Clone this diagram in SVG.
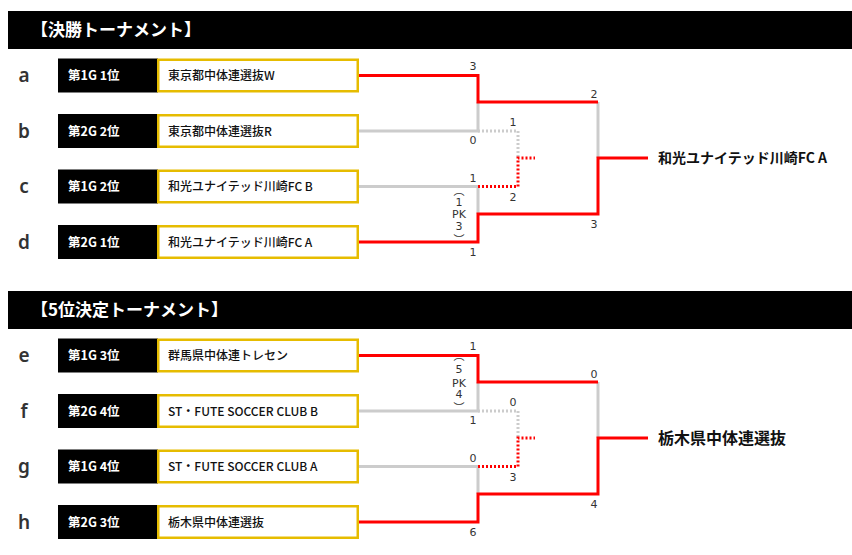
<svg xmlns="http://www.w3.org/2000/svg" width="852" height="555" viewBox="0 0 852 555">
<style>
.hdr{fill:#000}
.hdrt{fill:#fff;font-family:"Noto Sans CJK JP","Noto Sans",sans-serif;font-weight:bold;font-size:17px}
.let{fill:#333;font-family:"Noto Sans","DejaVu Sans",sans-serif;font-weight:600;font-size:19px;text-anchor:middle}
.lab{fill:#000}
.labt{fill:#fff;font-family:"Noto Sans CJK JP","Noto Sans",sans-serif;font-weight:bold;font-size:12.5px}
.team{fill:#fff;stroke:#e6bc00;stroke-width:2.5}
.teamt{fill:#111;font-family:"Noto Sans CJK JP","Noto Sans",sans-serif;font-weight:500;font-size:12px}
.win{fill:#111;font-family:"Noto Sans CJK JP","Noto Sans",sans-serif;font-weight:bold}
.sc{fill:#333;font-family:"DejaVu Sans","Verdana",sans-serif;font-size:11px;text-anchor:middle}
.pk{fill:#333;font-family:"Noto Sans CJK JP",sans-serif;font-size:11px;text-anchor:middle}
.g{fill:none;stroke:#cccccc;stroke-width:3}
.r{fill:none;stroke:#ff0000;stroke-width:3}
.gd{fill:none;stroke:#cccccc;stroke-width:3;stroke-dasharray:2 2}
.rd{fill:none;stroke:#ff0000;stroke-width:3;stroke-dasharray:2 2}
</style>
<rect width="852" height="555" fill="#fff"/>

<g id="header1">
<rect class="hdr" x="8" y="11" width="844" height="38"/>
<text class="hdrt" x="31" y="36">【決勝トーナメント】</text>
</g>
<g id="header2">
<rect class="hdr" x="8" y="291" width="844" height="38"/>
<text class="hdrt" x="31" y="316">【5位決定トーナメント】</text>
</g>

<g id="connectors">
<path class="g" d="M359 131 H478 V102"/>
<path class="g" d="M359 186.5 H478 V214"/>
<path class="g" d="M598 102 V158"/>
<path class="gd" d="M478 131 H518 V158"/>
<path class="rd" d="M478 186.5 H518 V158 H535"/>
<path class="r" d="M359 75.5 H478 V102 H598"/>
<path class="r" d="M359 242 H478 V214 H598 V158 H648"/>

<path class="g" d="M359 411 H478 V382"/>
<path class="g" d="M359 466.5 H478 V494"/>
<path class="g" d="M598 382 V438"/>
<path class="gd" d="M478 411 H518 V438"/>
<path class="rd" d="M478 466.5 H518 V438 H535"/>
<path class="r" d="M359 355.5 H478 V382 H598"/>
<path class="r" d="M359 522 H478 V494 H598 V438 H648"/>
</g>

<g id="node-a">
<text class="let" x="24" y="82">a</text>
<rect class="lab" x="58" y="58.5" width="100" height="34"/>
<text class="labt" x="68" y="80">第1G 1位</text>
<rect class="team" x="158.25" y="59.75" width="199.5" height="31.5"/>
<text class="teamt" x="168" y="80">東京都中体連選抜W</text>
</g>
<g id="node-b">
<text class="let" x="24" y="137.5">b</text>
<rect class="lab" x="58" y="114" width="100" height="34"/>
<text class="labt" x="68" y="135.5">第2G 2位</text>
<rect class="team" x="158.25" y="115.25" width="199.5" height="31.5"/>
<text class="teamt" x="168" y="135.5">東京都中体連選抜R</text>
</g>
<g id="node-c">
<text class="let" x="24" y="193">c</text>
<rect class="lab" x="58" y="169.5" width="100" height="34"/>
<text class="labt" x="68" y="191">第1G 2位</text>
<rect class="team" x="158.25" y="170.75" width="199.5" height="31.5"/>
<text class="teamt" x="168" y="191">和光ユナイテッド川崎FC B</text>
</g>
<g id="node-d">
<text class="let" x="24" y="248.5">d</text>
<rect class="lab" x="58" y="225" width="100" height="34"/>
<text class="labt" x="68" y="246.5">第2G 1位</text>
<rect class="team" x="158.25" y="226.25" width="199.5" height="31.5"/>
<text class="teamt" x="168" y="246.5">和光ユナイテッド川崎FC A</text>
</g>

<g id="node-e">
<text class="let" x="24" y="362">e</text>
<rect class="lab" x="58" y="338.5" width="100" height="34"/>
<text class="labt" x="68" y="360">第1G 3位</text>
<rect class="team" x="158.25" y="339.75" width="199.5" height="31.5"/>
<text class="teamt" x="168" y="360">群馬県中体連トレセン</text>
</g>
<g id="node-f">
<text class="let" x="24" y="417.5">f</text>
<rect class="lab" x="58" y="394" width="100" height="34"/>
<text class="labt" x="68" y="415.5">第2G 4位</text>
<rect class="team" x="158.25" y="395.25" width="199.5" height="31.5"/>
<text class="teamt" x="168" y="415.5">ST・FUTE SOCCER CLUB B</text>
</g>
<g id="node-g">
<text class="let" x="24" y="473">g</text>
<rect class="lab" x="58" y="449.5" width="100" height="34"/>
<text class="labt" x="68" y="471">第1G 4位</text>
<rect class="team" x="158.25" y="450.75" width="199.5" height="31.5"/>
<text class="teamt" x="168" y="471">ST・FUTE SOCCER CLUB A</text>
</g>
<g id="node-h">
<text class="let" x="24" y="528.5">h</text>
<rect class="lab" x="58" y="505" width="100" height="34"/>
<text class="labt" x="68" y="526.5">第2G 3位</text>
<rect class="team" x="158.25" y="506.25" width="199.5" height="31.5"/>
<text class="teamt" x="168" y="526.5">栃木県中体連選抜</text>
</g>

<g id="winner1">
<text class="win" x="658" y="163" font-size="14">和光ユナイテッド川崎FC A</text>
</g>
<g id="winner2">
<text class="win" x="658" y="444" font-size="16">栃木県中体連選抜</text>
</g>

<g id="scores1">
<text class="sc" x="473" y="70">3</text>
<text class="sc" x="473" y="144">0</text>
<text class="sc" x="513" y="126">1</text>
<text class="sc" x="473" y="182">1</text>
<text class="sc" x="513" y="201">2</text>
<text class="sc" x="473" y="256">1</text>
<text class="sc" x="594" y="98">2</text>
<text class="sc" x="594" y="228">3</text>
<text class="pk" x="459" y="195">︵</text>
<text class="sc" x="459" y="206">1</text>
<text class="sc" x="459" y="218">PK</text>
<text class="sc" x="459" y="230">3</text>
<text class="pk" x="459" y="244">︶</text>
</g>
<g id="scores2">
<text class="sc" x="473" y="350">1</text>
<text class="sc" x="473" y="424">1</text>
<text class="sc" x="513" y="406">0</text>
<text class="sc" x="473" y="462">0</text>
<text class="sc" x="513" y="481">3</text>
<text class="sc" x="473" y="536">6</text>
<text class="sc" x="594" y="378">0</text>
<text class="sc" x="594" y="508">4</text>
<text class="pk" x="459" y="360">︵</text>
<text class="sc" x="459" y="373">5</text>
<text class="sc" x="459" y="387">PK</text>
<text class="sc" x="459" y="398">4</text>
<text class="pk" x="459" y="412">︶</text>
</g>
</svg>
